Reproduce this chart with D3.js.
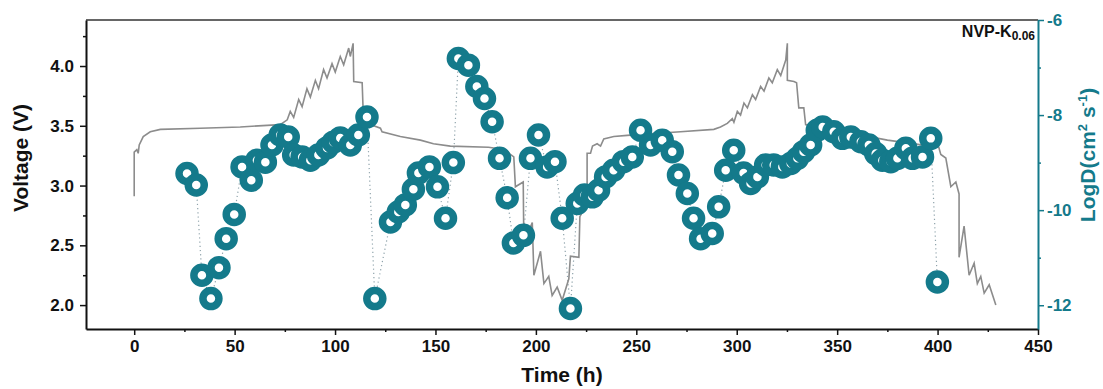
<!DOCTYPE html>
<html>
<head>
<meta charset="utf-8">
<script src="https://cdn.jsdelivr.net/npm/d3@7"></script>
<style>
  html, body { margin: 0; padding: 0; background: #fff; }
  svg text { font-family: Arial, "Liberation Sans", sans-serif; font-weight: bold; }
</style>
</head>
<body>
<div id="chart"></div>
<script>
(function () {
"use strict";

// Voltage profile, [time (h), voltage (V)]
var voltageCurve = [
  [0, 2.91], [0, 3.28], [1.3, 3.30], [2.0, 3.27], [2.5, 3.34], [4.5, 3.41], [8, 3.45], [13, 3.47],
  [32.9, 3.48], [52.8, 3.49], [72.7, 3.51], [76.2, 3.55], [77.7, 3.62], [79.4, 3.57], [81.9, 3.72],
  [83.6, 3.66], [86.0, 3.81], [87.7, 3.74], [90.2, 3.88], [91.8, 3.81], [94.3, 3.97], [96.0, 3.90],
  [98.5, 4.02], [100.1, 3.95], [102.6, 4.08], [104.3, 4.01], [106.8, 4.15], [107.6, 4.08], [109.0, 4.19],
  [109.3, 3.87], [113.5, 3.86], [113.9, 3.67], [115.1, 3.56], [117.6, 3.51], [122.6, 3.48], [123.4, 3.45],
  [132.5, 3.41], [142.5, 3.38], [149.0, 3.35], [157.4, 3.33], [176.4, 3.32], [184.9, 3.30], [187.3, 3.26],
  [189.0, 3.24], [189.8, 2.99], [193.7, 3.03], [194.0, 2.52], [198.2, 2.69], [199.0, 2.25], [202.3, 2.45],
  [204.0, 2.18], [206.4, 2.24], [208.1, 2.08], [210.6, 2.15], [213.1, 2.04],
  [216.4, 2.22], [217.2, 2.41], [221.4, 2.40], [221.9, 2.74], [223.2, 2.78], [225.5, 3.00], [225.5, 3.27],
  [227.2, 3.27], [228.2, 3.33], [230.5, 3.35], [232.2, 3.33], [233.8, 3.39], [238.8, 3.41], [245.5, 3.42],
  [272.0, 3.45], [288.6, 3.47], [291.9, 3.49], [295.3, 3.52], [297.8, 3.56], [298.6, 3.53], [300.3, 3.62],
  [301.9, 3.59], [303.6, 3.69], [305.3, 3.65], [307.8, 3.76], [309.4, 3.72], [311.9, 3.83], [313.6, 3.79],
  [316.0, 3.90], [317.7, 3.86], [320.2, 3.97], [321.9, 3.92], [324.4, 4.05], [325.2, 4.19],
  [325.2, 3.88], [328.5, 3.87], [329.8, 3.86], [330.9, 3.65], [333.4, 3.65], [334.3, 3.51], [338.5, 3.49],
  [356.7, 3.44], [375.0, 3.38], [400.6, 3.32], [401.6, 3.26], [404.1, 3.23], [406.6, 2.99], [409.1, 3.03],
  [410.7, 2.93], [410.7, 2.40], [413.2, 2.66], [415.7, 2.25], [418.2, 2.35], [419.8, 2.18], [421.5, 2.24],
  [423.2, 2.10], [425.7, 2.17], [429.0, 2.00]
];

// Diffusion coefficient, [time (h), log D]
var logDPoints = [
  [26.3, -9.23], [30.9, -9.47], [33.7, -11.37], [38.2, -11.86], [42.2, -11.21], [45.8, -10.60],
  [49.8, -10.09], [53.7, -9.09], [58.3, -9.37], [61.1, -8.95], [65.3, -8.99], [68.6, -8.63],
  [72.7, -8.42], [76.7, -8.46], [79.4, -8.84], [83.6, -8.88], [87.7, -8.95], [91.7, -8.84],
  [96.0, -8.69], [99.2, -8.57], [102.6, -8.48], [107.6, -8.63], [111.6, -8.42], [115.9, -8.04],
  [119.8, -11.86], [127.6, -10.25], [131.5, -10.04], [135.0, -9.89], [139.0, -9.56], [141.5, -9.22],
  [147.0, -9.09], [151.0, -9.51], [155.0, -10.17], [158.9, -9.00], [161.4, -6.81], [166.4, -6.95],
  [170.6, -7.40], [174.4, -7.65], [178.2, -8.14], [181.9, -8.91], [185.7, -9.74], [188.8, -10.69],
  [193.8, -10.53], [197.3, -8.91], [201.3, -8.42], [205.6, -9.09], [209.5, -8.98], [213.1, -10.17],
  [217.2, -12.07], [220.6, -9.86], [224.2, -9.68], [228.1, -9.72], [231.2, -9.58], [234.7, -9.30],
  [238.7, -9.16], [243.6, -8.98], [248.0, -8.88], [252.1, -8.32], [257.1, -8.63], [262.9, -8.53],
  [267.9, -8.77], [271.0, -9.26], [275.4, -9.65], [278.5, -10.17], [282.0, -10.60], [287.8, -10.49],
  [291.0, -9.93], [294.5, -9.16], [298.5, -8.74], [303.4, -9.22], [306.9, -9.44], [310.3, -9.30],
  [314.4, -9.05], [318.4, -9.05], [322.7, -9.09], [326.9, -9.02], [330.2, -8.91], [333.3, -8.77],
  [336.8, -8.63], [340.1, -8.32], [342.8, -8.25], [348.3, -8.35], [352.6, -8.49], [356.8, -8.46],
  [361.8, -8.56], [365.8, -8.63], [369.2, -8.81], [372.5, -8.95], [376.7, -8.98], [380.0, -8.91],
  [384.2, -8.70], [387.5, -8.91], [392.5, -8.88], [396.6, -8.49], [399.9, -11.51]
];

var xTicks = [0, 50, 100, 150, 200, 250, 300, 350, 400, 450];
var xMinorTicks = [25, 75, 125, 175, 225, 275, 325, 375, 425];
var vTicks = [2.0, 2.5, 3.0, 3.5, 4.0];
var vMinorTicks = [2.25, 2.75, 3.25, 3.75, 4.25];
var dTicks = [-12, -10, -8, -6];
var dMinorTicks = [-11, -9, -7];

var fullWidth = 1103, fullHeight = 389;
var margins = { left: 86, right: 65, top: 20, bottom: 60 };
var width = fullWidth - margins.left - margins.right,
    height = fullHeight - margins.top - margins.bottom;

var teal = "#147a8b";
var tickFont = 17, titleFont = 21;

var xScale = d3.scaleLinear().domain([-24, 450]).range([0, width]);
var vScale = d3.scaleLinear().domain([1.8, 4.385]).range([height, 0]);
var dScale = d3.scaleLinear().domain([-12.5, -6]).range([height, 0]);

var svg = d3.select("#chart").append("svg")
  .attr("width", fullWidth)
  .attr("height", fullHeight);

var g = svg.append("g")
  .attr("transform", "translate(" + margins.left + "," + margins.top + ")");

// Dotted connector through the D points
g.append("path")
  .datum(logDPoints)
  .attr("d", d3.line()
    .x(function(d) { return xScale(d[0]); })
    .y(function(d) { return dScale(d[1]); }))
  .style("fill", "none")
  .style("stroke", "#8fa3ab")
  .style("stroke-width", 1.2)
  .style("stroke-dasharray", "1.2,3");

// Voltage curve
g.append("path")
  .datum(voltageCurve)
  .attr("d", d3.line()
    .x(function(d) { return xScale(d[0]); })
    .y(function(d) { return vScale(d[1]); }))
  .style("fill", "none")
  .style("stroke", "#8c8c8c")
  .style("stroke-width", 1.6);

// LogD rings
g.append("g")
  .selectAll("circle")
  .data(logDPoints)
  .enter()
    .append("circle")
      .attr("cx", function(d) { return xScale(d[0]); })
      .attr("cy", function(d) { return dScale(d[1]); })
      .attr("r", 8)
      .style("fill", "#fff")
      .style("stroke", teal)
      .style("stroke-width", 7.5);

// Top frame
g.append("line")
  .attr("x1", 0).attr("x2", width)
  .attr("y1", 0).attr("y2", 0)
  .style("stroke", "#333")
  .style("stroke-width", 1.5);

// Axes
function styleAxis(sel, color) {
  sel.select(".domain").style("stroke", color).style("stroke-width", 2);
  sel.selectAll(".tick line").style("stroke", color).style("stroke-width", 1.5);
  sel.selectAll(".tick text")
    .style("fill", color)
    .style("font-size", tickFont + "px");
}

function minorTicks(sel, color) {
  sel.select(".domain").remove();
  sel.selectAll(".tick line").style("stroke", color).style("stroke-width", 1.5);
}

var xAxisG = g.append("g")
  .attr("transform", "translate(0," + height + ")")
  .call(d3.axisBottom(xScale).tickValues(xTicks).tickSize(6).tickPadding(5).tickSizeOuter(0)
    .tickFormat(d3.format("d")));
styleAxis(xAxisG, "#111");

g.append("g")
  .attr("transform", "translate(0," + height + ")")
  .call(d3.axisBottom(xScale).tickValues(xMinorTicks).tickSize(3).tickFormat("").tickSizeOuter(0))
  .call(minorTicks, "#111");

var vAxisG = g.append("g")
  .call(d3.axisLeft(vScale).tickValues(vTicks).tickSize(6).tickPadding(6).tickSizeOuter(0)
    .tickFormat(d3.format(".1f")));
styleAxis(vAxisG, "#111");

g.append("g")
  .call(d3.axisLeft(vScale).tickValues(vMinorTicks).tickSize(3).tickFormat("").tickSizeOuter(0))
  .call(minorTicks, "#111");

var dAxisG = g.append("g")
  .attr("transform", "translate(" + width + ",0)")
  .call(d3.axisRight(dScale).tickValues(dTicks).tickSize(6).tickPadding(3).tickSizeOuter(0)
    .tickFormat(function(d) { return "-" + Math.abs(d); }));
styleAxis(dAxisG, teal);

g.append("g")
  .attr("transform", "translate(" + width + ",0)")
  .call(d3.axisRight(dScale).tickValues(dMinorTicks).tickSize(3).tickFormat("").tickSizeOuter(0))
  .call(minorTicks, teal);

// Axis titles
svg.append("text")
  .attr("x", margins.left + xScale(213))
  .attr("y", 382)
  .style("text-anchor", "middle")
  .style("font-size", titleFont + "px")
  .style("fill", "#111")
  .text("Time (h)");

svg.append("text")
  .attr("transform", "translate(28,158) rotate(-90)")
  .style("text-anchor", "middle")
  .style("font-size", titleFont + "px")
  .style("fill", "#111")
  .text("Voltage (V)");

var dTitle = svg.append("text")
  .attr("transform", "translate(1095,155) rotate(-90)")
  .style("text-anchor", "middle")
  .style("font-size", titleFont + "px")
  .style("fill", teal);
dTitle.append("tspan").text("LogD(cm");
dTitle.append("tspan").attr("dy", -8).style("font-size", "13px").text("2");
dTitle.append("tspan").attr("dy", 8).text(" s");
dTitle.append("tspan").attr("dy", -8).style("font-size", "13px").text("-1");
dTitle.append("tspan").attr("dy", 8).text(")");

// Sample label
var label = svg.append("text")
  .attr("x", 1035)
  .attr("y", 37)
  .style("text-anchor", "end")
  .style("font-size", "16px")
  .style("fill", "#111");
label.append("tspan").text("NVP-K");
label.append("tspan").attr("dy", 3).style("font-size", "12px").text("0.06");

})();
</script>
</body>
</html>
